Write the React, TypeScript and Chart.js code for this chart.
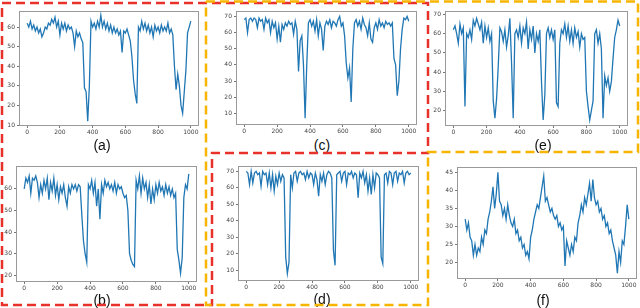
import React, { useEffect, useRef } from "react";
import { Chart, registerables } from "chart.js";

Chart.register(...registerables);

const xValues = [
  0, 10, 20, 30, 40, 50, 60, 70, 80, 90,
  100, 110, 120, 130, 140, 150, 160, 170, 180, 190,
  200, 210, 220, 230, 240, 250, 260, 270, 280, 290,
  300, 310, 320, 330, 340, 350, 360, 370, 380, 390,
  400, 410, 420, 430, 440, 450, 460, 470, 480, 490,
  500, 510, 520, 530, 540, 550, 560, 570, 580, 590,
  600, 610, 620, 630, 640, 650, 660, 670, 680, 690,
  700, 710, 720, 730, 740, 750, 760, 770, 780, 790,
  800, 810, 820, 830, 840, 850, 860, 870, 880, 890,
  900, 910, 920, 930, 940, 950, 960, 970, 980, 990,
  1000,
];

const seriesA = [
  62, 60, 63, 59, 61, 58, 60, 57, 59, 55,
  57, 60, 59, 62, 61, 64, 62, 65, 60, 63,
  56, 62, 59, 62, 58, 61, 59, 60, 57, 50,
  58, 55, 57, 54, 52, 29, 27, 12, 30, 63,
  60, 62, 59, 63, 60, 66, 60, 63, 59, 62,
  58, 61, 57, 60, 57, 59, 56, 58, 47, 58,
  57, 59, 56, 53, 45, 33, 26, 21, 60, 58,
  63, 59, 62, 58, 61, 57, 60, 55, 61, 58,
  60, 57, 61, 58, 60, 58, 62, 57, 59, 56,
  40, 28, 36, 30, 20, 16, 27, 38, 57, 60,
  63,
];

const seriesB = [
  60, 65, 63, 66, 58, 65, 64, 66, 63, 56,
  62, 58, 64, 60, 65, 55, 63, 59, 65, 57,
  62, 55, 61, 58, 62, 56, 52, 61, 58, 62,
  60, 62, 59, 62, 61, 48, 36, 30, 26, 62,
  60, 64, 58, 63, 52, 60, 46, 62, 58, 64,
  61, 63, 60, 62, 59, 63, 58, 62, 60, 61,
  58, 56, 57, 50, 30, 27, 25, 24, 64, 60,
  66, 58, 65, 60, 63, 56, 62, 53, 60, 55,
  62, 58, 63, 59, 61, 57, 62, 58, 61, 57,
  60, 56, 58, 32, 27, 21, 28, 56, 62, 60,
  67,
];

const seriesC = [
  68, 69, 60, 68, 69, 67, 69, 68, 63, 69,
  67, 68, 62, 69, 66, 68, 60, 67, 63, 66,
  56, 64, 54, 65, 62, 66, 64, 67, 65, 66,
  59, 67, 62, 36, 55, 58, 40, 7, 40, 66,
  68, 64, 67, 61, 68, 58, 66, 62, 49, 64,
  67, 65, 68, 63, 67, 66, 64, 68, 70, 64,
  66, 58, 41, 32, 38, 17, 50, 66, 68, 64,
  67, 62, 69, 65, 63, 58, 66, 56, 54, 63,
  66, 62, 68, 64, 66, 63, 67, 65, 66, 64,
  66, 44, 40, 21, 30, 50, 62, 69, 68, 70,
  67,
];

const seriesD = [
  70, 69, 62, 70, 63, 69, 70, 68, 69, 61,
  70, 68, 69, 62, 69, 60, 68, 58, 67, 62,
  69, 64, 68, 66, 18, 8, 15, 68, 60, 69,
  70, 64, 69, 70, 68, 69, 65, 70, 66, 69,
  68, 62, 69, 65, 55, 68, 64, 69, 62, 68,
  70, 69, 66, 22, 13, 68, 69, 70, 64, 69,
  70, 62, 69, 68, 70, 66, 69, 68, 54, 69,
  66, 70, 63, 68, 58, 66, 56, 68, 60, 69,
  68, 66, 18, 14, 68, 69, 63, 70, 69, 62,
  69, 70, 64, 69, 68, 70, 63, 69, 70, 68,
  69,
];

const seriesE = [
  62, 64, 60, 55, 65, 60, 63, 22, 60, 58,
  62, 57, 67, 64, 68, 65, 62, 66, 55, 64,
  58, 63, 56, 60, 25, 16, 26, 43, 63, 61,
  56, 62, 53, 59, 68, 45, 16, 60, 62, 58,
  64, 55, 63, 60, 66, 52, 62, 57, 64, 50,
  60, 56, 62, 35, 15, 28, 60, 63, 58, 62,
  57, 62, 24, 22, 55, 62, 60, 65, 58, 64,
  56, 62, 55, 63, 58, 61, 53, 60, 57, 58,
  30, 22, 15, 20, 25, 60, 62, 55, 60, 52,
  16, 38, 33, 37, 30, 35, 47, 58, 62, 67,
  64,
];

const seriesF = [
  32, 29, 31, 27, 26, 22, 25, 22, 24, 23,
  27, 25, 29, 28, 32, 34, 37, 41, 35, 39,
  45, 37, 36, 33, 35, 32, 36, 33, 31, 30,
  32, 28, 29, 26, 27, 24, 25, 22, 23, 21,
  27, 29, 32, 34, 36, 35, 38, 41, 44, 37,
  38, 36, 34, 35, 33, 32, 33, 30, 31, 29,
  30, 19, 26, 24, 22, 25, 23, 27, 26, 31,
  33, 36, 34, 38, 36, 39, 42, 37, 43, 38,
  36, 37, 34, 35, 32, 33, 30, 31, 28, 29,
  26, 24, 22, 17, 23, 20, 26, 25, 30, 36,
  32,
];

const xTicks = [0, 200, 400, 600, 800, 1000];
const yTicksA = [10, 20, 30, 40, 50, 60];
const yTicksB = [20, 30, 40, 50, 60];
const yTicksC = [10, 20, 30, 40, 50, 60, 70];
const yTicksD = [10, 20, 30, 40, 50, 60, 70];
const yTicksE = [20, 30, 40, 50, 60, 70];
const yTicksF = [20, 25, 30, 35, 40, 45];
const captions = ["(a)", "(b)", "(c)", "(d)", "(e)", "(f)"];

type Panel = {
  values: number[];
  yTicks: number[];
  yMin: number;
  yMax: number;
  left: number;
  top: number;
  right: number;
  bottom: number;
  caption: string;
  capX: number;
  capY: number;
};

const panels: Panel[] = [
  { values: seriesA, yTicks: yTicksA, yMin: 9.5, yMax: 68.4, left: 19, top: 7, right: 199, bottom: 126, caption: captions[0], capX: 102, capY: 145 },
  { values: seriesB, yTicks: yTicksB, yMin: 16.9, yMax: 70.8, left: 16, top: 162, right: 197, bottom: 282, caption: captions[1], capX: 102, capY: 300 },
  { values: seriesC, yTicks: yTicksC, yMin: 2.8, yMax: 73.6, left: 236, top: 7, right: 417, bottom: 125, caption: captions[2], capX: 322, capY: 145 },
  { values: seriesD, yTicks: yTicksD, yMin: 3.5, yMax: 73.5, left: 238, top: 162, right: 419, bottom: 281, caption: captions[3], capX: 322, capY: 299 },
  { values: seriesE, yTicks: yTicksE, yMin: 11.9, yMax: 72.0, left: 445, top: 7, right: 628, bottom: 126, caption: captions[4], capX: 543, capY: 145 },
  { values: seriesF, yTicks: yTicksF, yMin: 15.4, yMax: 46.6, left: 457, top: 163, right: 637, bottom: 279, caption: captions[5], capX: 543, capY: 300 },
];

const YW = 18;
const XH = 12;
const PT = 2;
const PR = 2;

const spinePlugin = {
  id: "spines",
  afterDraw(chart: any) {
    const { ctx, chartArea: a } = chart;
    ctx.save();
    ctx.strokeStyle = "#9a9a9a";
    ctx.lineWidth = 1;
    ctx.strokeRect(
      Math.round(a.left) + 0.5,
      Math.round(a.top) + 0.5,
      Math.round(a.right - a.left) - 1,
      Math.round(a.bottom - a.top) - 1
    );
    ctx.restore();
  },
};

function MiniChart({ p }: { p: Panel }) {
  const ref = useRef<HTMLCanvasElement>(null);
  const w = p.right - p.left + YW + PR;
  const h = p.bottom - p.top + PT + XH;
  useEffect(() => {
    const tickFont = { size: 6, family: "DejaVu Sans" };
    const chart = new Chart(ref.current as HTMLCanvasElement, {
      type: "line",
      data: {
        datasets: [
          {
            data: xValues.map((x, i) => ({ x, y: p.values[i] })),
            borderColor: "#2077b4",
            borderWidth: 1.3,
            pointRadius: 0,
            tension: 0,
          },
        ],
      },
      options: {
        animation: false,
        responsive: false,
        devicePixelRatio: 1,
        layout: { padding: { top: PT, right: PR, left: 0, bottom: 0 } },
        plugins: { legend: { display: false }, tooltip: { enabled: false } },
        scales: {
          x: {
            type: "linear",
            min: -50,
            max: 1050,
            afterBuildTicks: (s: any) => {
              s.ticks = xTicks.map((v) => ({ value: v }));
            },
            afterFit: (s: any) => {
              s.height = XH;
            },
            ticks: {
              font: tickFont,
              color: "#444",
              padding: 1,
              maxRotation: 0,
              autoSkip: false,
              callback: (v: any) => String(v),
            },
            grid: { display: true, drawOnChartArea: false, tickLength: 2, color: "#777" },
            border: { display: false },
          },
          y: {
            type: "linear",
            min: p.yMin,
            max: p.yMax,
            afterBuildTicks: (s: any) => {
              s.ticks = p.yTicks.map((v) => ({ value: v }));
            },
            afterFit: (s: any) => {
              s.width = YW;
            },
            ticks: {
              font: tickFont,
              color: "#444",
              padding: 2,
              autoSkip: false,
              callback: (v: any) => String(v),
            },
            grid: { display: true, drawOnChartArea: false, tickLength: 2, color: "#777" },
            border: { display: false },
          },
        },
      } as any,
      plugins: [spinePlugin],
    });
    return () => chart.destroy();
  }, []);
  return (
    <canvas
      ref={ref}
      width={w}
      height={h}
      style={{ position: "absolute", left: p.left - YW, top: p.top - PT, width: w, height: h }}
    />
  );
}

export default function App() {
  return (
    <div
      style={{
        position: "fixed",
        left: 0,
        top: 0,
        width: 640,
        height: 308,
        background: "#fff",
        overflow: "hidden",
      }}
    >
      {panels.map((p, i) => (
        <React.Fragment key={i}>
          <MiniChart p={p} />
          <div
            style={{
              position: "absolute",
              left: p.capX,
              top: p.capY,
              transform: "translate(-50%, -50%)",
              fontFamily: "'Liberation Sans', Arial, sans-serif",
              fontSize: 14,
              color: "#111",
              whiteSpace: "nowrap",
            }}
          >
            {p.caption}
          </div>
        </React.Fragment>
      ))}
      <svg
        width={640}
        height={308}
        style={{ position: "absolute", left: 0, top: 0, pointerEvents: "none" }}
      >
        <polyline
          points="2,3 428,3 428,153 212,153 212,305 2,305 2,3"
          fill="none"
          stroke="#e8312a"
          strokeWidth={2.5}
          strokeDasharray="9 5"
        />
        <polyline
          points="206,1.5 638,1.5 638,152 428,152 428,305 206,305 206,1.5"
          fill="none"
          stroke="#f7b500"
          strokeWidth={2.5}
          strokeDasharray="9 5"
        />
      </svg>
    </div>
  );
}
